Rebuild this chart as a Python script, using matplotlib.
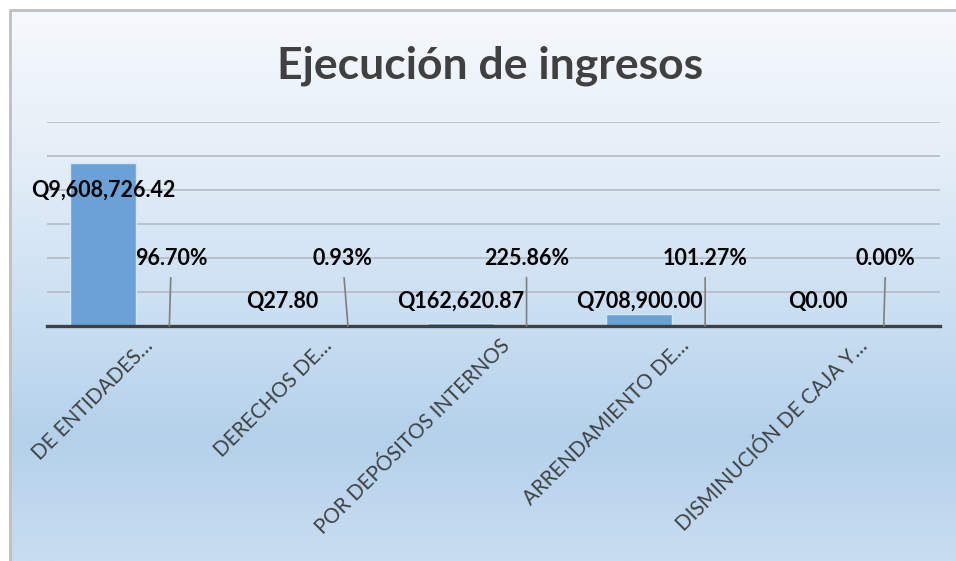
import numpy as np
import matplotlib
matplotlib.use("Agg")
import matplotlib.pyplot as plt
from matplotlib.colors import LinearSegmentedColormap
from matplotlib.transforms import ScaledTranslation

# datos
categorias = ["DE ENTIDADES…", "DERECHOS DE…", "POR DEPÓSITOS INTERNOS",
              "ARRENDAMIENTO DE…", "DISMINUCIÓN DE CAJA Y…"]
montos = [9608726.42, 27.80, 162620.87, 708900.00, 0.00]
porcentajes = [96.70, 0.93, 225.86, 101.27, 0.00]

titulo = "Ejecución de ingresos"

plt.rcParams['font.family'] = ['Lato', 'DejaVu Sans']

W, H = 956, 561
fig = plt.figure(figsize=(W / 100, H / 100), dpi=100)

# fondo con degradado (marco del grafico)
bg = fig.add_axes([0, 0, 1, 1])
bg.set_xlim(0, W)
bg.set_ylim(H, 0)
bg.axis("off")
cmap = LinearSegmentedColormap.from_list("fondo", [
    (0.0, "#f6f9fd"), (0.25, "#e6eff8"), (0.55, "#cadff2"),
    (0.78, "#b4d1eb"), (1.0, "#c9ddf1")])
grad = np.linspace(0, 1, 256).reshape(-1, 1)
bg.imshow(grad, cmap=cmap, aspect="auto", extent=(10, W, H, 10), zorder=0)
bg.plot([10, 10, W], [H, 10, 10], color="#bfbfbf", lw=2, zorder=1)
bg.text(490, 66, titulo, ha="center", va="center", fontsize=32,
        fontweight="bold", color="#404040")

# area de trazado
ax = fig.add_axes([47 / W, 1 - 326 / H, (940 - 47) / W, (326 - 122) / H])
ax.patch.set_alpha(0)
x = np.arange(len(categorias))
w = 0.37

ax.bar(x - w / 2, montos, w, color="#6aa2d8", edgecolor="#d6e6f5", lw=1, zorder=2)
ax.bar(x + w / 2, [p / 100 for p in porcentajes], w, color="#a5a5a5", zorder=2)

ax.set_xlim(-0.5, len(categorias) - 0.5)
ax.set_ylim(0, 12e6)
ax.set_yticks(np.arange(2e6, 12.1e6, 2e6))
ax.yaxis.grid(True, color="#b4bbc4", lw=1.2, zorder=1)
ax.tick_params(axis="y", left=False, labelleft=False)
ax.axhline(0, color="#404040", lw=2.4, zorder=3, clip_on=False)
for s in ax.spines.values():
    s.set_visible(False)

# etiquetas de montos
for xi, v in zip(x, montos):
    y_lab = v - 1.6e6 if v > 2e6 else 1.47e6
    ax.text(xi - w / 2, y_lab, "Q{:,.2f}".format(v), ha="center", va="center",
            fontsize=15.5, fontweight="bold", color="black", zorder=4)

# etiquetas de porcentajes con lineas guia
nudge = [0.011, -0.03, 0.0, 0.0, 0.011]
for xi, p, dx in zip(x, porcentajes, nudge):
    ax.annotate("{:.2f}%".format(p), xy=(xi + w / 2, p / 100),
                xytext=(xi + w / 2 + dx, 3.95e6), ha="center", va="center",
                fontsize=15.5, fontweight="bold", color="black", zorder=4,
                arrowprops=dict(arrowstyle="-", color="#7f7f7f", lw=1.2,
                                shrinkA=4, shrinkB=0))

# etiquetas de categorias
ax.set_xticks(x)
ax.set_xticklabels(categorias, rotation=45, ha="right", va="baseline",
                   rotation_mode="anchor", fontsize=14.8, color="#404040")
ax.tick_params(axis="x", length=0, pad=0)
off = ScaledTranslation(18 / 100, -21 / 100, fig.dpi_scale_trans)
for lab in ax.get_xticklabels():
    lab.set_transform(lab.get_transform() + off)

fig.savefig("out.png", dpi=100)
